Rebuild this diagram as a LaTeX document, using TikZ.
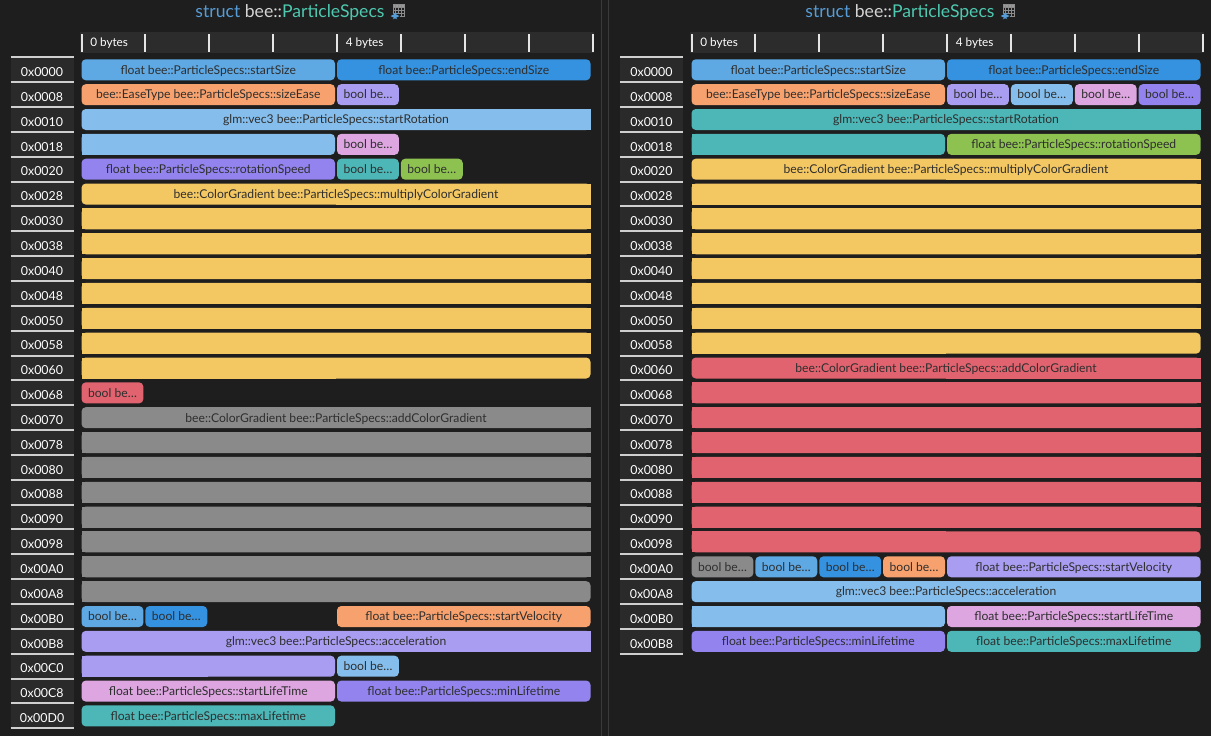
\documentclass[tikz,border=0pt]{standalone}
\usepackage{fontspec}
\setmainfont{Lato}
\definecolor{pagebg}{HTML}{1E1E1E}
\definecolor{cellbg}{HTML}{2A2A2A}
\definecolor{rulerbg}{HTML}{2C2C2C}
\definecolor{sepline}{HTML}{3A3A3A}
\definecolor{lineclr}{HTML}{CFCFCF}
\definecolor{fldtxt}{HTML}{2E2E2E}
\definecolor{cStruct}{HTML}{569CD6}
\definecolor{cNs}{HTML}{D4D4D4}
\definecolor{cType}{HTML}{4EC9B0}
\definecolor{cA}{HTML}{5EA8E4}
\definecolor{cB}{HTML}{3592E0}
\definecolor{cOr}{HTML}{F7A26E}
\definecolor{cLav}{HTML}{A99DF1}
\definecolor{cSky}{HTML}{85BEEC}
\definecolor{cPink}{HTML}{DDA6E0}
\definecolor{cPur}{HTML}{9283EE}
\definecolor{cTeal}{HTML}{4DB6B6}
\definecolor{cGreen}{HTML}{8DC150}
\definecolor{cYel}{HTML}{F3C762}
\definecolor{cRed}{HTML}{E0636F}
\definecolor{cGray}{HTML}{8A8A8A}
\tikzset{
  fldtext/.style={inner sep=0pt, anchor=base, text=fldtxt, font=\fontsize{9.1}{10}\selectfont},
  addr/.style={inner sep=0pt, anchor=base, text=white, font=\fontsize{9.3}{10}\selectfont},
  addrline/.style={draw=lineclr, line width=1.5pt},
  tick/.style={draw=white!90!black, line width=1.5pt},
  rulertext/.style={inner sep=0pt, anchor=base west, text=white, font=\fontsize{8.8}{10}\selectfont},
  titletext/.style={inner sep=0pt, anchor=base, font=\fontsize{13.2}{14}\selectfont},
}
% #1 x0, #2 prefix, #3 row, #4 b0, #5 b1, #6 colour, #7 text, #8 left round, #9 right round
\newcommand\fld[9]{%
  \pgfmathsetmacro\xa{#1+63.875*#4+0.5}%
  \pgfmathsetmacro\xb{#1+63.875*#5-1.5}%
  \pgfmathsetmacro\ya{59.3+24.85*#3}%
  \pgfmathsetmacro\yb{\ya+21}%
  \pgfmathsetmacro\xm{(\xa+\xb)/2}%
  \fill[#6, rounded corners=3.2pt] (\xa,\ya) rectangle (\xb,\yb);
  \ifnum#8=0 \fill[#6] (\xa,\ya) rectangle (\xm,\yb);\fi
  \ifnum#9=0 \fill[#6] (\xm,\ya) rectangle (\xb,\yb);\fi
  \node[fldtext] (#2-#3-#4) at (\xm,\ya+14.8) {#7};
}
% #1 prefix, #2 label x left, #3 bars x0, #4 title centre, #5 address list
\newcommand\panelframe[5]{%
  % title
  \node[titletext] (#1title) at (#4-10,17) {\color{cStruct}struct \color{cNs}bee::\color{cType}ParticleSpecs};
  \begin{scope}[shift={(#4+91,4)}]
    \fill[gray!80] (2,0) rectangle (13,3);
    \draw[gray!90, line width=0.75pt] (2,0) rectangle (13,12);
    \foreach \q in {4.75,7.5,10.25} \draw[gray!90, line width=0.6pt] (\q,0) -- (\q,12);
    \foreach \q in {3,6,9} \draw[gray!90, line width=0.6pt] (2,\q) -- (13,\q);
    \fill[pagebg] (-1,9.5) rectangle (8.5,15);
    \draw[cStruct, line width=1.2pt, <->, >=stealth] (-0.5,12) -- (8.5,12);
  \end{scope}
  % ruler
  \fill[rulerbg] (#3-1,32) rectangle (#3+513,53);
  \foreach \i in {0,...,8} \draw[tick] (#3+1+63.875*\i-0.5,34) -- (#3+1+63.875*\i-0.5,52);
  \node[rulertext] (#1r0) at (#3+9,46) {0 bytes};
  \node[rulertext] (#1r4) at (#3+9+4*63.875,46) {4 bytes};
  % address column
  \foreach \a [count=\k from 0] in {#5} {
    \fill[cellbg] (#2,57.3+24.85*\k) rectangle (#2+63,57.3+24.85*\k+24.85);
    \draw[addrline] (#2,57.3+24.85*\k) -- (#2+63,57.3+24.85*\k);
    \node[addr] (#1a\k) at (#2+31.5,57.3+24.85*\k+19.2) {0x\a};
    \xdef\lastk{\k}
  }
  \draw[addrline] (#2,57.3+24.85*\lastk+24.85) -- (#2+63,57.3+24.85*\lastk+24.85);
}
\begin{document}
\begin{tikzpicture}[x=0.75pt,y=-0.75pt]
\useasboundingbox (0,0) rectangle (1211,736);
\fill[pagebg] (0,0) rectangle (1211,736);
\draw[sepline, line width=0.9pt] (601.5,0) -- (601.5,736);
\draw[sepline, line width=0.9pt] (608.5,0) -- (608.5,736);

\panelframe{L}{10.5}{81}{300}{0000,0008,0010,0018,0020,0028,0030,0038,0040,0048,0050,0058,0060,0068,0070,0078,0080,0088,0090,0098,00A0,00A8,00B0,00B8,00C0,00C8,00D0}
\panelframe{R}{620}{691}{910}{0000,0008,0010,0018,0020,0028,0030,0038,0040,0048,0050,0058,0060,0068,0070,0078,0080,0088,0090,0098,00A0,00A8,00B0,00B8}

% ---------- left panel ----------
\fld{81}{L}{0}{0}{4}{cA}{float bee::ParticleSpecs::startSize}{1}{1}
\fld{81}{L}{0}{4}{8}{cB}{float bee::ParticleSpecs::endSize}{1}{1}
\fld{81}{L}{1}{0}{4}{cOr}{bee::EaseType bee::ParticleSpecs::sizeEase}{1}{1}
\fld{81}{L}{1}{4}{5}{cLav}{bool be…}{1}{1}
\fld{81}{L}{2}{0}{8}{cSky}{glm::vec3 bee::ParticleSpecs::startRotation}{1}{0}
\fld{81}{L}{3}{0}{4}{cSky}{}{0}{1}
\fld{81}{L}{3}{4}{5}{cPink}{bool be…}{1}{1}
\fld{81}{L}{4}{0}{4}{cPur}{float bee::ParticleSpecs::rotationSpeed}{1}{1}
\fld{81}{L}{4}{4}{5}{cTeal}{bool be…}{1}{1}
\fld{81}{L}{4}{5}{6}{cGreen}{bool be…}{1}{1}
\fld{81}{L}{5}{0}{8}{cYel}{bee::ColorGradient bee::ParticleSpecs::multiplyColorGradient}{1}{0}
\foreach \r in {6,...,11} {\fld{81}{L}{\r}{0}{8}{cYel}{}{0}{0}}
\fld{81}{L}{12}{0}{8}{cYel}{}{0}{1}
\fld{81}{L}{13}{0}{1}{cRed}{bool be…}{1}{1}
\fld{81}{L}{14}{0}{8}{cGray}{bee::ColorGradient bee::ParticleSpecs::addColorGradient}{1}{0}
\foreach \r in {15,...,20} {\fld{81}{L}{\r}{0}{8}{cGray}{}{0}{0}}
\fld{81}{L}{21}{0}{8}{cGray}{}{0}{1}
\fld{81}{L}{22}{0}{1}{cA}{bool be…}{1}{1}
\fld{81}{L}{22}{1}{2}{cB}{bool be…}{1}{1}
\fld{81}{L}{22}{4}{8}{cOr}{float bee::ParticleSpecs::startVelocity}{1}{1}
\fld{81}{L}{23}{0}{8}{cLav}{glm::vec3 bee::ParticleSpecs::acceleration}{1}{0}
\fld{81}{L}{24}{0}{4}{cLav}{}{0}{1}
\fld{81}{L}{24}{4}{5}{cSky}{bool be…}{1}{1}
\fld{81}{L}{25}{0}{4}{cPink}{float bee::ParticleSpecs::startLifeTime}{1}{1}
\fld{81}{L}{25}{4}{8}{cPur}{float bee::ParticleSpecs::minLifetime}{1}{1}
\fld{81}{L}{26}{0}{4}{cTeal}{float bee::ParticleSpecs::maxLifetime}{1}{1}

% ---------- right panel ----------
\fld{691}{R}{0}{0}{4}{cA}{float bee::ParticleSpecs::startSize}{1}{1}
\fld{691}{R}{0}{4}{8}{cB}{float bee::ParticleSpecs::endSize}{1}{1}
\fld{691}{R}{1}{0}{4}{cOr}{bee::EaseType bee::ParticleSpecs::sizeEase}{1}{1}
\fld{691}{R}{1}{4}{5}{cLav}{bool be…}{1}{1}
\fld{691}{R}{1}{5}{6}{cSky}{bool be…}{1}{1}
\fld{691}{R}{1}{6}{7}{cPink}{bool be…}{1}{1}
\fld{691}{R}{1}{7}{8}{cPur}{bool be…}{1}{1}
\fld{691}{R}{2}{0}{8}{cTeal}{glm::vec3 bee::ParticleSpecs::startRotation}{1}{0}
\fld{691}{R}{3}{0}{4}{cTeal}{}{0}{1}
\fld{691}{R}{3}{4}{8}{cGreen}{float bee::ParticleSpecs::rotationSpeed}{1}{1}
\fld{691}{R}{4}{0}{8}{cYel}{bee::ColorGradient bee::ParticleSpecs::multiplyColorGradient}{1}{0}
\foreach \r in {5,...,10} {\fld{691}{R}{\r}{0}{8}{cYel}{}{0}{0}}
\fld{691}{R}{11}{0}{8}{cYel}{}{0}{1}
\fld{691}{R}{12}{0}{8}{cRed}{bee::ColorGradient bee::ParticleSpecs::addColorGradient}{1}{0}
\foreach \r in {13,...,18} {\fld{691}{R}{\r}{0}{8}{cRed}{}{0}{0}}
\fld{691}{R}{19}{0}{8}{cRed}{}{0}{1}
\fld{691}{R}{20}{0}{1}{cGray}{bool be…}{1}{1}
\fld{691}{R}{20}{1}{2}{cA}{bool be…}{1}{1}
\fld{691}{R}{20}{2}{3}{cB}{bool be…}{1}{1}
\fld{691}{R}{20}{3}{4}{cOr}{bool be…}{1}{1}
\fld{691}{R}{20}{4}{8}{cLav}{float bee::ParticleSpecs::startVelocity}{1}{1}
\fld{691}{R}{21}{0}{8}{cSky}{glm::vec3 bee::ParticleSpecs::acceleration}{1}{0}
\fld{691}{R}{22}{0}{4}{cSky}{}{0}{1}
\fld{691}{R}{22}{4}{8}{cPink}{float bee::ParticleSpecs::startLifeTime}{1}{1}
\fld{691}{R}{23}{0}{4}{cPur}{float bee::ParticleSpecs::minLifetime}{1}{1}
\fld{691}{R}{23}{4}{8}{cTeal}{float bee::ParticleSpecs::maxLifetime}{1}{1}
\end{tikzpicture}
\end{document}
